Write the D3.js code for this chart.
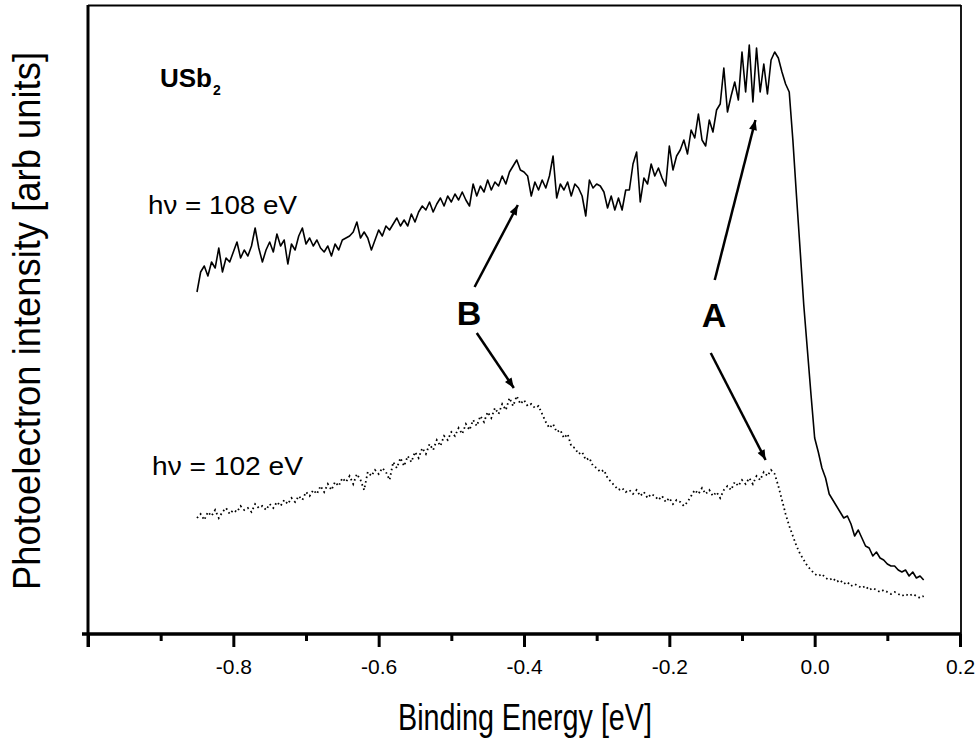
<!DOCTYPE html>
<html>
<head>
<meta charset="utf-8">
<script src="https://cdn.jsdelivr.net/npm/d3@7"></script>
<style>
  body { margin: 0; background: #fff; }
  svg { display: block; font-family: Arial, "Liberation Sans", Helvetica, sans-serif; }
</style>
</head>
<body>
<svg id="chart" width="979" height="743"></svg>
<script>
// Energy grid of both spectra (eV)
const E_START = -0.85;
const E_STEP = 0.005;

// hv = 108 eV spectrum, intensity in arb. units
const spec108 = [
  342, 362, 368, 358, 372, 366, 386, 362, 376, 372, 382,
  392, 376, 384, 378, 388, 406, 386, 372, 384, 392,
  382, 400, 388, 394, 370, 390, 384, 398, 406, 390,
  396, 388, 394, 386, 382, 388, 378, 390, 384, 394,
  396, 398, 402, 412, 396, 402, 396, 384, 394, 404,
  398, 408, 404, 410, 416, 408, 414, 408, 420, 412,
  422, 428, 424, 432, 422, 430, 436, 428, 438, 432,
  440, 434, 442, 434, 428, 450, 438, 448, 442, 454,
  444, 452, 448, 458, 450, 462, 468, 474, 464, 462,
  458, 438, 452, 444, 454, 446, 458, 478, 436, 450,
  444, 452, 438, 450, 446, 438, 418, 454, 446, 450,
  448, 442, 426, 438, 424, 436, 424, 444, 444, 470,
  482, 432, 456, 450, 470, 458, 466, 456, 448, 488,
  464, 478, 484, 494, 480, 504, 496, 520, 494, 488,
  514, 502, 524, 530, 566, 522, 538, 552, 534, 582,
  542, 589, 532, 586, 542, 570, 540, 574, 582, 576,
  562, 550, 542, 494, 438, 384, 329, 284, 239, 196,
  182, 166, 156, 140, 134, 128, 122, 116, 118, 110,
  98, 104, 96, 88, 86, 78, 82, 76, 74, 70,
  68, 68, 64, 62, 64, 58, 62, 56, 58, 54
];

// hv = 102 eV spectrum, intensity in arb. units
const spec102 = [
  116, 120, 114, 122, 118, 124, 116, 122, 126, 120, 124,
  122, 128, 124, 126, 122, 130, 126, 128, 124, 130,
  126, 132, 128, 134, 130, 136, 132, 138, 134, 142,
  138, 144, 140, 148, 142, 150, 144, 152, 148, 156,
  152, 158, 150, 160, 154, 144, 162, 158, 164, 160,
  166, 162, 154, 172, 166, 176, 168, 178, 172, 182,
  176, 186, 180, 190, 184, 194, 188, 198, 194, 202,
  198, 206, 200, 210, 204, 214, 208, 218, 212, 222,
  216, 226, 220, 230, 224, 236, 228, 238, 230, 234,
  228, 230, 226, 228, 220, 212, 206, 210, 202, 204,
  196, 200, 188, 186, 180, 182, 174, 176, 168, 166,
  162, 164, 156, 152, 148, 144, 146, 142, 144, 140,
  144, 138, 142, 136, 140, 138, 134, 138, 132, 136,
  130, 134, 132, 128, 132, 138, 144, 140, 146, 140,
  144, 138, 142, 136, 144, 148, 144, 152, 148, 154,
  150, 156, 150, 158, 154, 162, 158, 164, 160, 148,
  134, 120, 108, 98, 88, 80, 74, 68, 64, 60,
  58, 60, 56, 54, 56, 52, 54, 50, 52, 48,
  50, 48, 46, 48, 44, 46, 44, 42, 44, 42,
  40, 42, 40, 38, 40, 38, 40, 38, 36, 38
];

const majorTicks = [-1.0, -0.8, -0.6, -0.4, -0.2, 0.0, 0.2];
const minorTicks = [-0.9, -0.7, -0.5, -0.3, -0.1, 0.1];

// annotation arrows: [fromE, fromI, toE, toI]
const arrowsB = [[-0.468, 347, -0.4085, 429], [-0.465, 301, -0.4140, 246]];
const arrowsA = [[-0.1375, 354, -0.0815, 514], [-0.143, 281, -0.0675, 174]];

const svg = d3.select('#chart');
const margin = { left: 88, right: 961, top: 5, bottom: 634 };

const x = d3.scaleLinear().domain([-1.0, 0.2]).range([margin.left, 960]);
const y = d3.scaleLinear().domain([0, 629]).range([margin.bottom, margin.top]);

const toPoints = arr => arr.map((v, i) => [E_START + i * E_STEP, v]);
const line = d3.line().x(d => x(d[0])).y(d => y(d[1]));

// frame
svg.append('line').attr('x1', margin.left).attr('x2', margin.right)
  .attr('y1', margin.top + 0.5).attr('y2', margin.top + 0.5)
  .attr('stroke', '#000').attr('stroke-width', 1.8);
svg.append('line').attr('x1', margin.right).attr('x2', margin.right)
  .attr('y1', margin.top).attr('y2', margin.bottom)
  .attr('stroke', '#000').attr('stroke-width', 1.8);

// x axis
const axisG = svg.append('g').attr('transform', `translate(0,${margin.bottom})`);
axisG.call(d3.axisBottom(x).tickValues(minorTicks).tickSize(7).tickFormat(''))
  .call(g => g.select('.domain').remove())
  .call(g => g.selectAll('.tick line').attr('stroke-width', 3));
const majorG = svg.append('g').attr('transform', `translate(0,${margin.bottom})`);
majorG.call(d3.axisBottom(x).tickValues(majorTicks).tickSize(13).tickPadding(12)
    .tickFormat(d => d === -1 ? '' : d.toFixed(1)))
  .call(g => g.select('.domain').remove())
  .call(g => g.selectAll('.tick line').attr('stroke-width', 3))
  .call(g => g.selectAll('.tick text').attr('font-size', 21)
    .attr('font-family', 'Arial, "Liberation Sans", sans-serif').attr('fill', '#000'));

svg.append('line').attr('x1', 82).attr('x2', margin.right)
  .attr('y1', margin.bottom).attr('y2', margin.bottom)
  .attr('stroke', '#000').attr('stroke-width', 3.4);
svg.append('line').attr('x1', margin.left).attr('x2', margin.left)
  .attr('y1', margin.top).attr('y2', margin.bottom + 13)
  .attr('stroke', '#000').attr('stroke-width', 3);

// spectra
svg.append('path').datum(toPoints(spec108))
  .attr('d', line).attr('fill', 'none')
  .attr('stroke', '#000').attr('stroke-width', 1.6).attr('stroke-linejoin', 'round');
svg.append('path').datum(toPoints(spec102))
  .attr('d', line).attr('fill', 'none')
  .attr('stroke', '#000').attr('stroke-width', 1.8).attr('stroke-dasharray', '1.6 3');

// arrows
svg.append('defs').append('marker')
  .attr('id', 'head').attr('viewBox', '0 0 10 8').attr('refX', 10).attr('refY', 4)
  .attr('markerWidth', 11).attr('markerHeight', 8).attr('markerUnits', 'userSpaceOnUse')
  .attr('orient', 'auto')
  .append('path').attr('d', 'M0,0L10,4L0,8Z').attr('fill', '#000');

svg.append('g').selectAll('line')
  .data(arrowsB.concat(arrowsA))
  .join('line')
  .attr('x1', d => x(d[0])).attr('y1', d => y(d[1]))
  .attr('x2', d => x(d[2])).attr('y2', d => y(d[3]))
  .attr('stroke', '#000').attr('stroke-width', 2.5)
  .attr('marker-end', 'url(#head)');

// labels
svg.append('text').attr('x', 469).attr('y', 325).attr('text-anchor', 'middle')
  .attr('font-size', 34).attr('font-weight', 'bold').text('B');
svg.append('text').attr('x', 714).attr('y', 327).attr('text-anchor', 'middle')
  .attr('font-size', 34).attr('font-weight', 'bold').text('A');

const usb = svg.append('text').attr('x', 160).attr('y', 87)
  .attr('font-size', 26).attr('font-weight', 'bold');
usb.append('tspan').text('USb');
usb.append('tspan').attr('font-size', 14).attr('dx', 1).attr('dy', 8).text('2');

svg.append('text').attr('x', 148).attr('y', 214).attr('font-size', 26)
  .attr('textLength', 149).attr('lengthAdjust', 'spacingAndGlyphs').text('hν = 108 eV');
svg.append('text').attr('x', 152).attr('y', 475).attr('font-size', 26)
  .attr('textLength', 151).attr('lengthAdjust', 'spacingAndGlyphs').text('hν = 102 eV');

// axis titles
svg.append('text').attr('x', 398).attr('y', 730).attr('font-size', 36)
  .attr('textLength', 254).attr('lengthAdjust', 'spacingAndGlyphs')
  .text('Binding Energy [eV]');
svg.append('text').attr('transform', 'translate(40,590) rotate(-90)')
  .attr('font-size', 38).attr('textLength', 538).attr('lengthAdjust', 'spacingAndGlyphs')
  .text('Photoelectron intensity [arb units]');
</script>
</body>
</html>
